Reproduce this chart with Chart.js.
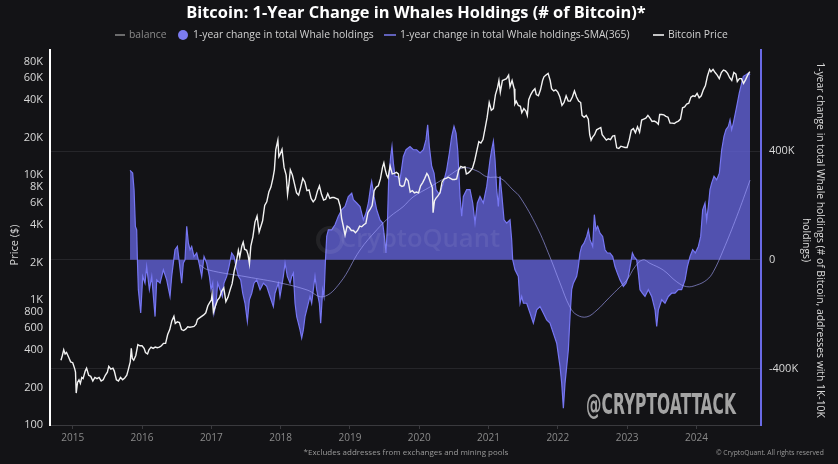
<!DOCTYPE html>
<html>
<head>
<meta charset="utf-8">
<script src="https://cdn.jsdelivr.net/npm/chart.js@4.4.1/dist/chart.umd.min.js"></script>
<style>
html,body{margin:0;padding:0;background:#131316;}
#wrap{width:838px;height:464px;position:relative;}
</style>
</head>
<body>
<div id="wrap"><canvas id="c" width="838" height="464"></canvas></div>
<script>
// ---------- DATA ----------
const yearTicks = [2015,2016,2017,2018,2019,2020,2021,2022,2023,2024];
const priceTicks = [100,200,400,600,800,1000,2000,4000,6000,8000,10000,20000,40000,60000,80000];
const whaleTicks = [-400,0,400]; // thousands of BTC

const priceDates = [2014.83,2014.85,2014.87,2014.89,2014.91,2014.94,2014.97,2015.00,2015.03,2015.04,2015.05,2015.07,2015.09,2015.11,2015.13,2015.15,2015.18,2015.20,2015.23,2015.26,2015.29,2015.32,2015.35,2015.38,2015.41,2015.44,2015.47,2015.50,2015.52,2015.55,2015.58,2015.60,2015.63,2015.66,2015.69,2015.72,2015.75,2015.78,2015.80,2015.83,2015.845,2015.86,2015.88,2015.91,2015.94,2015.97,2016.00,2016.03,2016.05,2016.08,2016.10,2016.13,2016.16,2016.19,2016.22,2016.25,2016.28,2016.31,2016.34,2016.37,2016.40,2016.43,2016.46,2016.48,2016.51,2016.54,2016.57,2016.60,2016.63,2016.66,2016.69,2016.72,2016.75,2016.78,2016.80,2016.83,2016.86,2016.89,2016.92,2016.95,2016.98,2017.00,2017.01,2017.03,2017.06,2017.09,2017.12,2017.15,2017.18,2017.21,2017.24,2017.27,2017.30,2017.33,2017.36,2017.39,2017.41,2017.44,2017.46,2017.48,2017.51,2017.53,2017.55,2017.57,2017.60,2017.63,2017.66,2017.69,2017.71,2017.74,2017.77,2017.80,2017.83,2017.86,2017.89,2017.91,2017.93,2017.96,2017.975,2017.99,2018.02,2018.05,2018.08,2018.10,2018.12,2018.14,2018.17,2018.20,2018.23,2018.26,2018.29,2018.32,2018.35,2018.38,2018.41,2018.44,2018.47,2018.50,2018.53,2018.56,2018.59,2018.62,2018.65,2018.68,2018.71,2018.74,2018.77,2018.80,2018.83,2018.86,2018.88,2018.90,2018.93,2018.96,2018.99,2019.02,2019.05,2019.08,2019.11,2019.14,2019.17,2019.20,2019.23,2019.26,2019.29,2019.32,2019.35,2019.38,2019.41,2019.44,2019.47,2019.49,2019.51,2019.53,2019.55,2019.58,2019.61,2019.64,2019.67,2019.70,2019.72,2019.75,2019.78,2019.81,2019.84,2019.87,2019.90,2019.93,2019.96,2019.99,2020.02,2020.05,2020.08,2020.11,2020.13,2020.16,2020.19,2020.20,2020.22,2020.24,2020.27,2020.30,2020.33,2020.36,2020.39,2020.42,2020.45,2020.48,2020.51,2020.54,2020.57,2020.60,2020.63,2020.66,2020.68,2020.71,2020.74,2020.77,2020.80,2020.83,2020.86,2020.89,2020.92,2020.95,2020.98,2021.01,2021.04,2021.07,2021.10,2021.13,2021.15,2021.17,2021.20,2021.23,2021.26,2021.29,2021.31,2021.34,2021.37,2021.38,2021.40,2021.43,2021.46,2021.48,2021.51,2021.54,2021.56,2021.58,2021.61,2021.64,2021.67,2021.69,2021.72,2021.75,2021.78,2021.80,2021.83,2021.86,2021.89,2021.91,2021.94,2021.97,2022.00,2022.03,2022.06,2022.09,2022.12,2022.15,2022.18,2022.21,2022.24,2022.27,2022.30,2022.33,2022.35,2022.38,2022.41,2022.44,2022.46,2022.48,2022.50,2022.53,2022.56,2022.59,2022.62,2022.64,2022.67,2022.70,2022.73,2022.76,2022.79,2022.82,2022.85,2022.88,2022.91,2022.94,2022.97,2023.00,2023.03,2023.06,2023.09,2023.12,2023.15,2023.18,2023.21,2023.24,2023.27,2023.30,2023.33,2023.36,2023.39,2023.42,2023.45,2023.47,2023.50,2023.53,2023.56,2023.59,2023.62,2023.65,2023.68,2023.71,2023.74,2023.77,2023.80,2023.83,2023.86,2023.89,2023.92,2023.95,2023.98,2024.01,2024.04,2024.07,2024.10,2024.13,2024.16,2024.19,2024.21,2024.24,2024.27,2024.30,2024.33,2024.36,2024.39,2024.42,2024.45,2024.48,2024.51,2024.54,2024.57,2024.59,2024.62,2024.65,2024.68,2024.71,2024.74,2024.77];
const priceValues = [330,360,400,370,380,350,320,315,280,265,180,220,230,215,240,235,270,285,250,245,225,240,235,240,225,230,250,265,295,280,285,270,230,225,240,230,238,250,275,320,410,340,330,360,440,430,430,410,380,370,400,420,410,420,415,420,430,450,450,530,580,680,740,650,670,660,580,570,585,610,605,610,615,640,700,720,740,760,790,900,960,1000,1100,800,900,1000,1050,1180,1250,970,1050,1200,1350,1700,2000,2500,2200,2700,2900,2550,2500,2300,1950,2700,3200,4200,4700,3500,3800,4300,5700,6100,7300,8000,9500,11000,16000,19000,14000,14500,16000,11500,10000,7000,8500,11000,10000,8500,7200,6900,8000,9400,8800,7500,7600,6500,6100,6400,7400,8200,7000,6300,6400,7100,6500,6600,6600,6500,6400,5600,4500,4000,3300,3900,3800,3600,3600,3450,3600,3900,3850,4000,4100,5000,5300,5700,7500,8000,8200,9300,11500,12500,11000,10000,9500,11800,10200,10300,10500,10200,8300,8100,8200,9400,9000,7300,7500,7200,7300,7200,8200,8700,9400,10300,9900,8800,7900,5000,6200,6500,6800,7200,8800,9300,9400,9600,9400,9200,9200,9300,11000,11700,11500,11600,10200,10400,10800,11400,13000,15500,18500,18000,19200,23500,28900,38000,33000,34000,44000,50000,57000,46000,57000,58000,59000,63000,51000,57000,49000,37000,39000,36000,35500,31500,34000,32500,30000,40000,44000,47000,49000,44000,43000,48000,57000,61000,63000,65000,57000,49000,47000,48000,46000,42000,36000,38000,43000,39000,39000,42000,47000,42000,39000,38000,30000,29000,30000,28000,21000,19000,20000,21000,23000,23500,24000,21000,20000,19000,19500,19200,20500,20700,16500,16300,17000,16800,16600,16600,19000,22800,23500,21800,24300,22000,27500,28000,28500,30000,28500,26800,27000,26500,25500,30500,30500,30300,29500,29000,26000,26000,25800,26500,27000,28000,34500,35000,37000,37500,42000,43000,42500,45000,41500,43000,48000,52000,62000,70000,67000,70000,66000,63000,59000,66000,69000,68000,65000,60000,57000,66000,64000,56000,59000,59000,54000,58000,63000,67000];

// 1-year change in total whale holdings (thousands of BTC)
const whaleDates = [2015.827,2015.865,2015.885,2015.904,2015.923,2015.933,2015.947,2015.981,2016.010,2016.043,2016.067,2016.106,2016.140,2016.188,2016.212,2016.260,2016.308,2016.356,2016.404,2016.428,2016.476,2016.510,2016.539,2016.572,2016.596,2016.620,2016.645,2016.669,2016.693,2016.717,2016.750,2016.789,2016.823,2016.861,2016.895,2016.933,2016.972,2016.996,2017.020,2017.039,2017.068,2017.092,2017.126,2017.159,2017.183,2017.222,2017.255,2017.294,2017.328,2017.356,2017.390,2017.424,2017.453,2017.486,2017.520,2017.549,2017.583,2017.616,2017.655,2017.703,2017.751,2017.799,2017.847,2017.895,2017.919,2017.967,2017.991,2018.039,2018.064,2018.097,2018.136,2018.160,2018.184,2018.208,2018.232,2018.256,2018.280,2018.304,2018.328,2018.352,2018.376,2018.424,2018.448,2018.472,2018.496,2018.520,2018.559,2018.578,2018.607,2018.626,2018.645,2018.665,2018.689,2018.737,2018.785,2018.833,2018.881,2018.929,2018.977,2019.026,2019.050,2019.098,2019.146,2019.194,2019.232,2019.266,2019.300,2019.314,2019.348,2019.386,2019.434,2019.473,2019.497,2019.521,2019.540,2019.559,2019.588,2019.607,2019.627,2019.651,2019.684,2019.723,2019.771,2019.810,2019.867,2019.915,2019.963,2020.012,2020.060,2020.098,2020.122,2020.146,2020.180,2020.214,2020.242,2020.276,2020.300,2020.348,2020.396,2020.435,2020.469,2020.502,2020.531,2020.555,2020.589,2020.613,2020.637,2020.685,2020.733,2020.772,2020.805,2020.839,2020.877,2020.925,2020.974,2021.022,2021.046,2021.070,2021.094,2021.118,2021.142,2021.166,2021.190,2021.224,2021.262,2021.310,2021.334,2021.349,2021.382,2021.430,2021.455,2021.479,2021.503,2021.551,2021.599,2021.647,2021.695,2021.743,2021.791,2021.839,2021.887,2021.935,2021.984,2022.032,2022.056,2022.080,2022.104,2022.128,2022.152,2022.176,2022.200,2022.224,2022.272,2022.296,2022.320,2022.344,2022.378,2022.417,2022.441,2022.465,2022.503,2022.527,2022.551,2022.575,2022.609,2022.647,2022.681,2022.715,2022.753,2022.792,2022.825,2022.859,2022.898,2022.946,2022.984,2023.018,2023.052,2023.076,2023.100,2023.138,2023.162,2023.186,2023.220,2023.258,2023.306,2023.355,2023.403,2023.427,2023.451,2023.499,2023.547,2023.595,2023.643,2023.691,2023.739,2023.787,2023.836,2023.869,2023.908,2023.946,2023.984,2024.028,2024.062,2024.090,2024.124,2024.148,2024.172,2024.196,2024.220,2024.254,2024.292,2024.331,2024.365,2024.398,2024.427,2024.461,2024.485,2024.509,2024.533,2024.581,2024.619,2024.653,2024.677,2024.716,2024.749,2024.774];
const whaleValues = [329,319,258,123,110,0,-110,-196,-61,-86,-25,-110,-61,-209,-74,-86,-37,-74,-135,-61,37,49,-12,-86,-12,0,123,61,37,49,12,25,-12,-61,12,-12,-61,-110,-86,-196,-160,-86,-110,-135,-86,-61,-25,25,12,-25,-61,-74,-123,-160,-227,-147,-123,-86,-74,-110,-86,-98,-135,-172,-123,-86,-135,-61,-12,-61,-86,-61,-49,-160,-209,-233,-258,-288,-258,-209,-184,-135,-160,-110,-61,-110,-160,-233,-110,-135,-12,86,110,110,129,160,184,196,233,245,221,209,196,147,172,209,270,288,233,184,147,135,86,25,123,294,380,417,356,307,307,294,380,405,417,405,405,393,405,442,497,417,344,319,258,245,245,282,331,393,454,491,466,405,233,160,233,258,258,209,135,209,233,209,270,368,405,436,368,258,196,307,245,147,135,147,74,0,-37,-61,-160,-135,-160,-160,-196,-233,-184,-172,-196,-221,-233,-270,-307,-393,-454,-546,-454,-393,-331,-209,-110,-86,-61,-25,25,49,61,86,110,74,49,166,110,123,98,86,37,25,25,12,-25,-49,-74,-98,-86,-61,-12,25,12,0,-49,-110,-123,-135,-110,-135,-184,-245,-184,-147,-160,-135,-123,-123,-110,-110,-74,-25,12,37,25,49,86,184,209,147,196,258,282,307,294,319,405,454,479,491,515,479,503,564,614,650,675,681,687,681];

// SMA(365) of the 1-year change (thousands of BTC)
const smaDates = [2016.837,2016.952,2017.515,2017.991,2018.381,2018.612,2018.857,2019.146,2019.387,2019.579,2019.766,2019.911,2020.156,2020.401,2020.632,2020.834,2020.978,2021.166,2021.353,2021.454,2021.699,2021.887,2022.031,2022.175,2022.276,2022.420,2022.565,2022.709,2022.853,2022.998,2023.113,2023.229,2023.329,2023.522,2023.716,2023.860,2024.004,2024.149,2024.244,2024.388,2024.582,2024.774];
const smaValues = [-19,-37,-63,-85,-111,-136,-85,36,110,159,195,231,268,305,338,327,305,301,257,231,121,10,-85,-174,-203,-210,-185,-148,-111,-74,-26,0,-13,-38,-81,-99,-93,-74,-44,36,159,293];

// ---------- CHART ----------
const toXY = (xs, ys) => xs.map((x, i) => ({x: x, y: ys[i]}));
const fmtPrice = v => v >= 1000 ? (v / 1000) + 'K' : String(v);
const fmtWhale = v => v === 0 ? '0' : v + 'K';

function fitSize(ctx, text, font, target) {
  ctx.font = font.replace('{s}', '100px');
  return 100 * target / ctx.measureText(text).width;
}

const decor = {
  id: 'decor',
  beforeDraw(chart) {
    const ctx = chart.ctx;
    ctx.save();
    ctx.fillStyle = '#131316';
    ctx.fillRect(0, 0, chart.width, chart.height);
    ctx.restore();
  },
  afterDatasetsDraw(chart) {
    const ctx = chart.ctx;
    ctx.save();
    // watermark
    const wm = 'CryptoQuant';
    let s = fitSize(ctx, wm, '600 {s} "Open Sans"', 160);
    ctx.font = '600 ' + s + 'px "Open Sans"';
    ctx.fillStyle = 'rgba(255,255,255,0.07)';
    ctx.textAlign = 'center'; ctctx = null;
    ctx.textBaseline = 'middle';
    ctx.fillText(wm, 420, 240);
    ctx.beginPath();
    ctx.arc(330, 240, 12, 0, Math.PI * 2);
    ctx.strokeStyle = 'rgba(255,255,255,0.07)';
    ctx.lineWidth = 4;
    ctx.stroke();
    ctx.restore();
  },
  afterDraw(chart) {
    const ctx = chart.ctx;
    ctx.save();
    // title
    const title = 'Bitcoin: 1-Year Change in Whales Holdings (# of Bitcoin)*';
    let s = fitSize(ctx, title, 'bold {s} "Open Sans"', 460);
    ctx.font = 'bold ' + s + 'px "Open Sans"';
    ctx.fillStyle = '#ffffff';
    ctx.textAlign = 'center';
    ctx.textBaseline = 'middle';
    ctx.fillText(title, 416, 13);

    // legend
    const lf = fitSize(ctx, '1-year change in total Whale holdings', '{s} "Open Sans"', 181);
    ctx.font = lf + 'px "Open Sans"';
    ctx.textAlign = 'left';
    const ly = 35;
    ctx.lineWidth = 1.5;
    ctx.strokeStyle = '#8a8a8a';
    ctx.beginPath(); ctx.moveTo(115, ly); ctx.lineTo(125, ly); ctx.stroke();
    ctx.fillStyle = '#8a8a8a';
    ctx.fillText('balance', 129, ly);
    ctx.fillStyle = '#7b7bf0';
    ctx.beginPath(); ctx.arc(183, ly, 5, 0, Math.PI * 2); ctx.fill();
    ctx.fillStyle = '#d0d0d0';
    ctx.fillText('1-year change in total Whale holdings', 193, ly);
    ctx.strokeStyle = '#7b7bf0';
    ctx.beginPath(); ctx.moveTo(384, ly); ctx.lineTo(396, ly); ctx.stroke();
    ctx.fillText('1-year change in total Whale holdings-SMA(365)', 400, ly);
    ctx.strokeStyle = '#ffffff';
    ctx.beginPath(); ctx.moveTo(653, ly); ctx.lineTo(664, ly); ctx.stroke();
    ctx.fillText('Bitcoin Price', 668, ly);

    // left axis title
    ctx.save();
    ctx.translate(15, 245);
    ctx.rotate(-Math.PI / 2);
    ctx.font = '11px "Open Sans"';
    ctx.fillStyle = '#d8d8d8';
    ctx.textAlign = 'center';
    ctx.fillText('Price ($)', 0, 0);
    ctx.restore();

    // right axis title
    ctx.save();
    ctx.translate(820, 240);
    ctx.rotate(Math.PI / 2);
    const r1 = '1-year change in total Whale holdings (# of Bitcoin, addresses with 1K-10K';
    const rs = fitSize(ctx, r1, '{s} "Open Sans"', 356);
    ctx.font = rs + 'px "Open Sans"';
    ctx.fillStyle = '#d8d8d8';
    ctx.textAlign = 'center';
    ctx.fillText(r1, 0, 0);
    ctx.fillText('holdings)', 0, 14);
    ctx.restore();

    // footers
    ctx.font = '10px "Open Sans"';
    const f1 = '*Excludes addresses from exchanges and mining pools';
    const fs = fitSize(ctx, f1, '{s} "Open Sans"', 205);
    ctx.font = fs + 'px "Open Sans"';
    ctx.fillStyle = '#9a9a9a';
    ctx.textAlign = 'center';
    ctx.fillText(f1, 406, 453);
    const f2 = '\u00A9 CryptoQuant. All rights reserved';
    const fs2 = fitSize(ctx, f2, '{s} "Open Sans"', 108);
    ctx.font = fs2 + 'px "Open Sans"';
    ctx.textAlign = 'left';
    ctx.fillText(f2, 716, 453);

    // handle
    const h = '@CRYPTOATTACK';
    ctx.font = 'bold 29px "Liberation Sans Narrow", "DejaVu Sans Condensed", sans-serif';
    const w = ctx.measureText(h).width;
    ctx.save();
    ctx.translate(586, 413.5);
    ctx.scale(150 / w, 1);
    ctx.fillStyle = '#a4a4a4';
    ctx.textAlign = 'left';
    ctx.textBaseline = 'alphabetic';
    ctx.fillText(h, 0, 0);
    ctx.restore();

    ctx.restore();
  }
};

new Chart(document.getElementById('c'), {
  type: 'line',
  data: {
    datasets: [
      {
        label: 'Bitcoin Price',
        data: toXY(priceDates, priceValues),
        yAxisID: 'yPrice',
        borderColor: '#f2f2f2',
        borderWidth: 1.4,
        pointRadius: 0,
        tension: 0,
        order: 0
      },
      {
        label: '1-year change in total Whale holdings-SMA(365)',
        data: toXY(smaDates, smaValues),
        yAxisID: 'yWhale',
        borderColor: 'rgba(165,165,255,0.6)',
        borderWidth: 1,
        pointRadius: 0,
        tension: 0.4,
        order: 1
      },
      {
        label: '1-year change in total Whale holdings',
        data: toXY(whaleDates, whaleValues),
        yAxisID: 'yWhale',
        borderColor: '#7676f2',
        borderWidth: 1.2,
        backgroundColor: 'rgba(98,98,214,0.8)',
        fill: 'origin',
        pointRadius: 0,
        tension: 0,
        order: 2
      }
    ]
  },
  options: {
    responsive: false,
    animation: false,
    layout: { padding: { top: 50, left: 0, right: 0, bottom: 0 } },
    plugins: { legend: { display: false }, title: { display: false }, tooltip: { enabled: false } },
    scales: {
      x: {
        type: 'linear',
        min: 2014.672,
        max: 2024.932,
        afterBuildTicks: s => { s.ticks = yearTicks.map(v => ({ value: v })); },
        afterFit: s => { s.height = 39; },
        ticks: { color: '#8a8a8a', font: { size: 10, family: 'Open Sans' }, maxRotation: 0, autoSkip: false, padding: 3, callback: v => String(v) },
        grid: { drawOnChartArea: false, drawTicks: true, tickLength: 4, color: '#3a3a3e' },
        border: { color: '#3a3a3e', width: 1 }
      },
      yPrice: {
        type: 'logarithmic',
        position: 'left',
        min: 100,
        max: 100000,
        afterBuildTicks: s => { s.ticks = priceTicks.map(v => ({ value: v })); },
        afterFit: s => { s.width = 50; },
        ticks: { color: '#d8d8d8', font: { size: 11, family: 'Open Sans' }, padding: 7, autoSkip: false, callback: v => fmtPrice(v) },
        grid: { display: false, drawTicks: false },
        border: { color: '#ffffff', width: 2 }
      },
      yWhale: {
        type: 'linear',
        position: 'right',
        min: -608,
        max: 772,
        afterBuildTicks: s => { s.ticks = whaleTicks.map(v => ({ value: v })); },
        afterFit: s => { s.width = 77; },
        ticks: { color: '#d8d8d8', font: { size: 11, family: 'Open Sans' }, padding: 8, callback: v => fmtWhale(v) },
        grid: { color: '#26262a', drawTicks: false, lineWidth: 1 },
        border: { color: '#6a6ae6', width: 2 }
      }
    }
  },
  plugins: [decor]
});
</script>
</body>
</html>
